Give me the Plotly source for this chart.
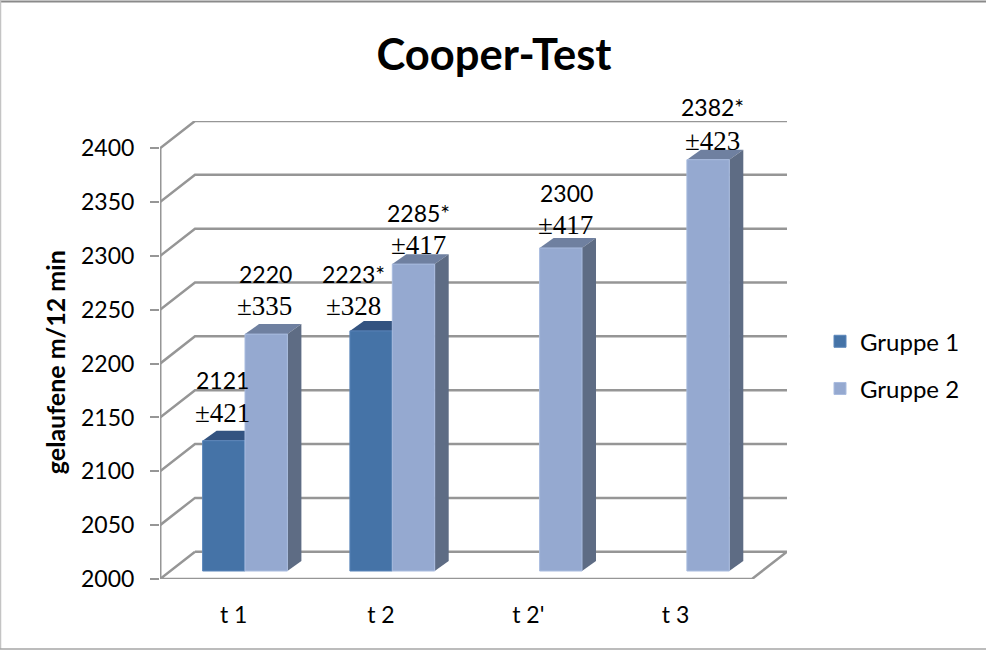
import plotly.graph_objects as go

categories = ["t 1", "t 2", "t 2'", "t 3"]
positions = [0, 1, 2, 3]
y_ticks = [2000, 2050, 2100, 2150, 2200, 2250, 2300, 2350, 2400]

gruppe1 = [2121, 2223, None, None]
gruppe2 = [2220, 2285, 2300, 2382]
labels1 = ["2121", "2223*", None, None]
labels2 = ["2220", "2285*", "2300", "2382*"]
spread1 = ["±421", "±328", None, None]
spread2 = ["±335", "±417", "±417", "±423"]

# pixel shifts of the hand placed labels, from the top centre of each bar
shift1 = [(-1, 61, -1.5, 28), (-17.5, 57, -17.5, 25), None, None]
shift2 = [(-1, 60, -2, 28), (4.5, 51, 5, 19), (5.5, 55, 4.5, 23), (4, 52.5, 4.5, 18.5)]

WIDTH, HEIGHT = 986, 652
LEFT, RIGHT, TOP, BOTTOM = 160, 787, 120.7, 579
PX_X = 147.3
PX_Y = 431 / 400
X_MIN = -0.5
X_MAX = X_MIN + (RIGHT - LEFT) / PX_X
Y_MIN = 2000
Y_MAX = Y_MIN + (BOTTOM - TOP) / PX_Y
LIFT = 8 / PX_Y  # bars stand a little behind the front edge of the floor
WALL_DX, WALL_DY = 35 / PX_X, 27.3 / PX_Y
BAR_DX, BAR_DY = 14 / PX_X, 10 / PX_Y
BAR_W = 42.4 / PX_X
SPLIT = 11.35 / PX_X

GRID = "#969696"
TEXT = "#000000"

fig = go.Figure()


def add_line(xs, ys, width=2.5):
    fig.add_trace(go.Scatter(x=xs, y=ys, mode="lines", showlegend=False, hoverinfo="skip",
                             cliponaxis=False, line=dict(color=GRID, width=width)))


def add_face(xs, ys, color):
    fig.add_trace(go.Scatter(x=xs, y=ys, mode="lines", fill="toself", fillcolor=color,
                             showlegend=False, hoverinfo="skip", line=dict(width=0)))


# back wall and side wall lines
for tick in y_ticks:
    if tick == Y_MIN:
        continue
    add_line([X_MIN, X_MIN + WALL_DX, X_MAX],
             [tick, tick + WALL_DY, tick + WALL_DY])
# floor and axis
add_line([X_MIN + WALL_DX, X_MAX, X_MAX - WALL_DX, X_MIN, X_MIN + WALL_DX],
         [Y_MIN + WALL_DY, Y_MIN + WALL_DY, Y_MIN, Y_MIN, Y_MIN + WALL_DY])
add_line([X_MIN, X_MIN], [Y_MIN, y_ticks[-1]], width=3)

# top and side faces of the bars
for values, start, top_color, side_color in [
    (gruppe1, SPLIT - BAR_W, "#335380", "#34527c"),
    (gruppe2, SPLIT, "#6f80a0", "#5e6c84"),
]:
    for pos, val in zip(positions, values):
        if val is None:
            continue
        x0, x1 = pos + start, pos + start + BAR_W
        v = val + LIFT
        add_face([x0, x1, x1 + BAR_DX, x0 + BAR_DX, x0],
                 [v, v, v + BAR_DY, v + BAR_DY, v], top_color)
        add_face([x1, x1 + BAR_DX, x1 + BAR_DX, x1, x1],
                 [v, v + BAR_DY, Y_MIN + LIFT + BAR_DY, Y_MIN + LIFT, v], side_color)

fig.add_trace(go.Bar(name="Gruppe 1", x=positions, y=[None if v is None else v - Y_MIN for v in gruppe1],
                     base=Y_MIN, width=BAR_W, offset=SPLIT - BAR_W, yaxis="y2", legendgroup="g1",
                     marker=dict(color="#4573a7", line=dict(color="#5b86ba", width=1))))
fig.add_trace(go.Bar(name="Gruppe 2", x=positions, y=[v - Y_MIN for v in gruppe2],
                     base=Y_MIN, width=BAR_W, offset=SPLIT, yaxis="y2", legendgroup="g2",
                     marker=dict(color="#95a9d0", line=dict(color="#a9bcdf", width=1))))

# data labels, the spread is set in a serif face in the original
for values, labels, spreads, shifts, start in [
    (gruppe1, labels1, spread1, shift1, SPLIT - BAR_W / 2),
    (gruppe2, labels2, spread2, shift2, SPLIT + BAR_W / 2),
]:
    for i, val in enumerate(values):
        if val is None:
            continue
        sx, sy, ex, ey = shifts[i]
        fig.add_annotation(x=positions[i] + start, y=val, yref="y2", text=labels[i], showarrow=False,
                           xshift=sx, yshift=sy, font=dict(family="Lato", size=23, color=TEXT))
        fig.add_annotation(x=positions[i] + start, y=val, yref="y2", text=spreads[i], showarrow=False,
                           xshift=ex, yshift=ey, font=dict(family="Liberation Serif", size=27, color=TEXT))

plot_w, plot_h = RIGHT - LEFT, BOTTOM - TOP
fig.add_annotation(text="<b>gelaufene m/12 min</b>", xref="paper", yref="paper", showarrow=False,
                   x=(55 - LEFT) / plot_w, y=(BOTTOM - 362) / plot_h, textangle=-90,
                   xanchor="center", yanchor="middle", font=dict(family="Lato", size=25, color=TEXT))

# chart frame, the right edge has no visible line in the original
for px0, py0, px1, py1, color, width in [
    (0, 1, 986, 1, "#8a8a8a", 2),
    (0.5, 0, 0.5, 649, "#c4c4c4", 1.5),
    (0, 649, 986, 649, "#a6a6a6", 1.5),
]:
    fig.add_shape(type="line", xref="paper", yref="paper", layer="below",
                  x0=(px0 - LEFT) / plot_w, x1=(px1 - LEFT) / plot_w,
                  y0=(BOTTOM - py0) / plot_h, y1=(BOTTOM - py1) / plot_h,
                  line=dict(color=color, width=width))

fig.update_layout(
    width=WIDTH, height=HEIGHT,
    margin=dict(l=LEFT, r=WIDTH - RIGHT, t=TOP, b=HEIGHT - BOTTOM, autoexpand=False),
    paper_bgcolor="white", plot_bgcolor="white",
    barmode="overlay",
    font=dict(family="Lato", color=TEXT),
    title=dict(text="<b>Cooper-Test</b>", x=494 / WIDTH, xanchor="center", y=1 - 55 / HEIGHT, yanchor="middle",
               font=dict(family="Lato", size=43.5, color=TEXT)),
    legend=dict(x=(820 - LEFT) / plot_w, y=(BOTTOM - 319) / plot_h, xanchor="left", yanchor="top",
                font=dict(family="Lato", size=24, color=TEXT), tracegroupgap=13,
                bgcolor="rgba(0,0,0,0)", borderwidth=0),
    xaxis=dict(range=[X_MIN, X_MAX], tickvals=positions, ticktext=categories, showgrid=False, zeroline=False,
               showline=False, ticks="", ticklabelstandoff=20, tickfont=dict(family="Lato", size=23, color=TEXT)),
    yaxis=dict(range=[Y_MIN, Y_MAX], tickvals=y_ticks, showgrid=False, zeroline=False, showline=False,
               ticks="outside", ticklen=9, tickwidth=2, tickcolor=GRID, ticklabelstandoff=11,
               tickfont=dict(family="Lato", size=23, color=TEXT)),
    yaxis2=dict(range=[Y_MIN - LIFT, Y_MAX - LIFT], overlaying="y", visible=False),
)

fig.write_html("out.html", config=dict(displayModeBar=False), post_script="document.body.style.margin='0'")
